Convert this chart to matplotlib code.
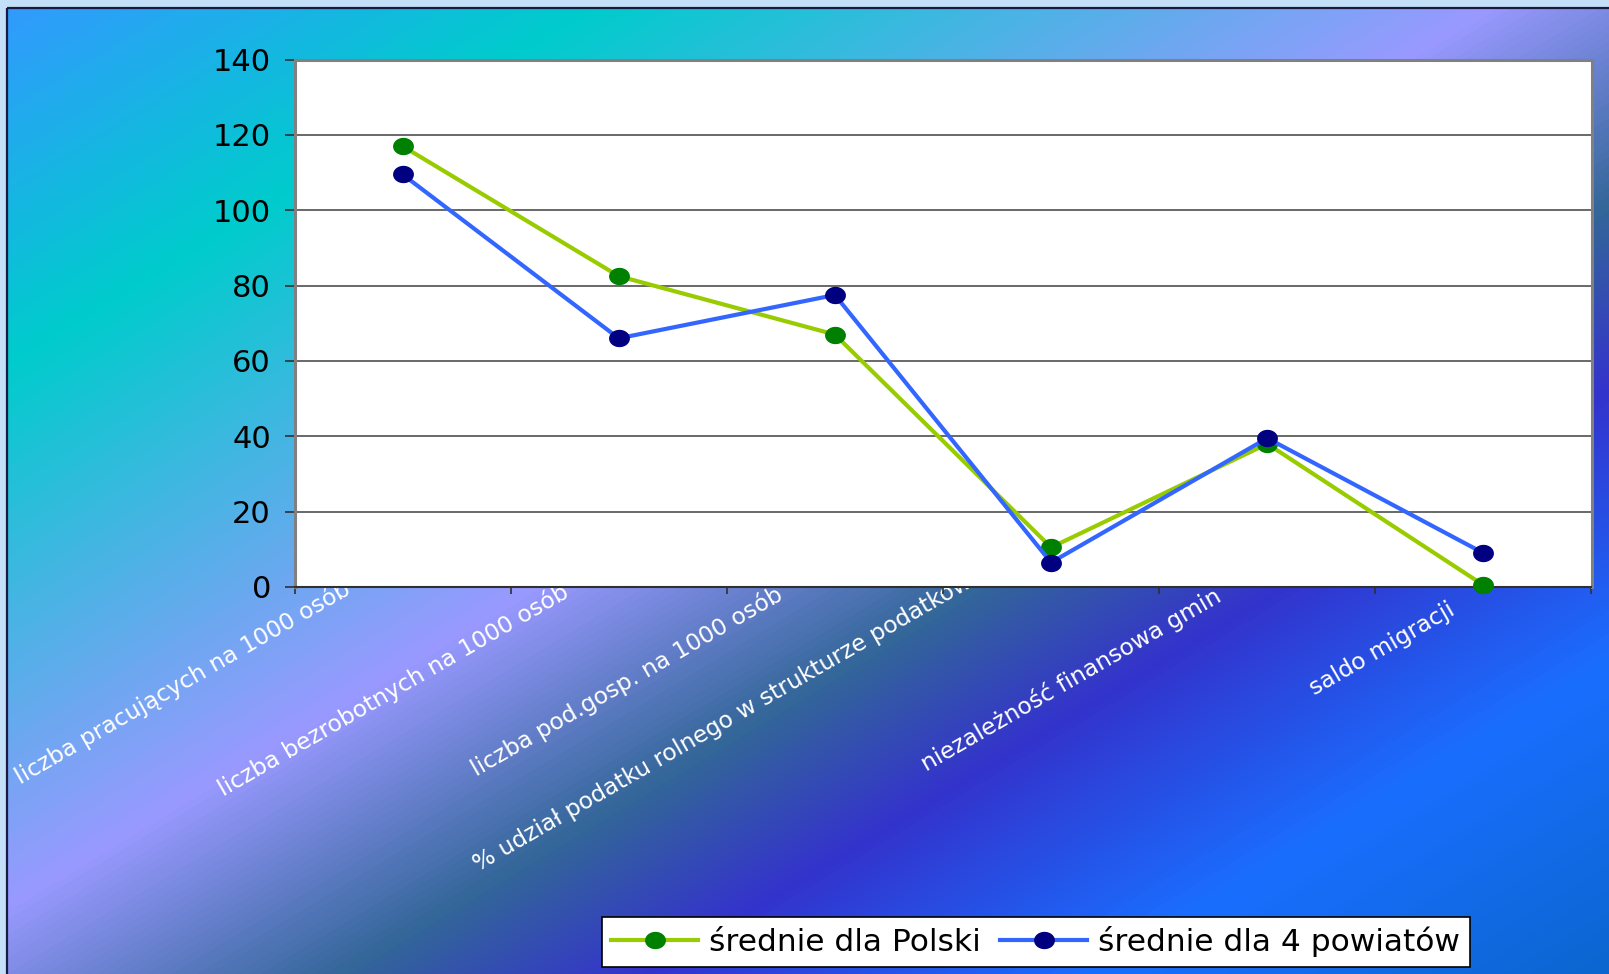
import numpy as np
import matplotlib.pyplot as plt
from matplotlib.colors import LinearSegmentedColormap
from matplotlib.lines import Line2D
from matplotlib.patches import Rectangle
from matplotlib.path import Path
from matplotlib.transforms import blended_transform_factory, ScaledTranslation

# chart data
categories = ["liczba pracujących na 1000 osób",
              "liczba bezrobotnych na 1000 osób",
              "liczba pod.gosp. na 1000 osób",
              "% udział podatku rolnego w strukturze podatków",
              "niezależność finansowa gmin",
              "saldo migracji"]
polska = [117, 82.5, 67, 10.5, 38, 0.5]
powiaty = [109.5, 66, 77.5, 6.5, 39.5, 9]
series_names = ["średnie dla Polski", "średnie dla 4 powiatów"]
yticks = [0, 20, 40, 60, 80, 100, 120, 140]

# where each rotated label starts, in pixels from its category centre / the axis
label_dx = [-382, -395, -358, -573, -341, -169]
label_dy = [-198, -210, -190, -285, -185, -109]

W, H = 1609, 974
fig = plt.figure(figsize=(W / 100, H / 100), dpi=100)
fig.patch.set_facecolor("#c4e0f8")

# background: diagonal multi-stop gradient inside the frame
bg = fig.add_axes([0, 0, 1, 1], zorder=0)
bg.set_xlim(0, W)
bg.set_ylim(H, 0)
bg.axis("off")
stops = [(0, "#3399ff"), (600, "#00cccc"), (1500, "#9999ff"), (1950, "#336699"),
         (2250, "#3333cc"), (2700, "#1a6eff"), (3250, "#0a66cc")]
umax = stops[-1][0]
cmap = LinearSegmentedColormap.from_list("bg", [(u / umax, c) for u, c in stops])
xx, yy = np.meshgrid(np.arange(8, W), np.arange(9, H))
uu = np.clip((xx + 1.65 * yy) / umax, 0, 1)
bg.imshow(uu, cmap=cmap, vmin=0, vmax=1, extent=(8, W, H, 9), aspect="auto",
          interpolation="bilinear")
bg.add_patch(Rectangle((7, 8), W, H, fill=False, edgecolor="#1a1a40", lw=1.6))

# slightly flattened round marker, like the original
th = np.linspace(0, 2 * np.pi, 60)
ellipse = Path(np.column_stack([np.cos(th), 0.82 * np.sin(th)]))

# main plot area
ax_l, ax_b, ax_r, ax_t = 294.5 / W, 1 - 587 / H, 1591.5 / W, 1 - 59.5 / H
ax = fig.add_axes([ax_l, ax_b, ax_r - ax_l, ax_t - ax_b], zorder=1)
ax.set_facecolor("white")
x = np.arange(len(categories))
ax.plot(x, polska, color="#99cc00", lw=3, marker=ellipse, ms=14,
        mfc="#008000", mec="#008000", solid_joinstyle="round", zorder=3, clip_on=False)
ax.plot(x, powiaty, color="#3366ff", lw=3, marker=ellipse, ms=14,
        mfc="#000080", mec="#000080", solid_joinstyle="round", zorder=4, clip_on=False)

ax.set_ylim(0, 140)
ax.set_xlim(-0.5, len(categories) - 0.5)
ax.set_yticks(yticks)
ax.set_yticklabels([str(v) for v in yticks], fontsize=22, family="DejaVu Sans")
ax.set_xticks(np.arange(len(categories) + 1) - 0.5)
ax.set_xticklabels([])
ax.grid(axis="y", color="#404040", lw=1.1)
ax.set_axisbelow(True)
ax.tick_params(axis="y", direction="out", length=7, width=1.2, color="#303030", pad=10)
ax.tick_params(axis="x", direction="out", length=5, width=1.2, color="#303030")
for side in ["left", "top", "right"]:
    ax.spines[side].set_color("#808080")
    ax.spines[side].set_linewidth(2.2)
ax.spines["bottom"].set_color("#303030")
ax.spines["bottom"].set_linewidth(1.5)

# rotated category labels, drawn behind the plot area so the overlap is hidden
base = blended_transform_factory(ax.transData, ax.transAxes)
for i, lab in enumerate(categories):
    off = ScaledTranslation(label_dx[i] / 100, label_dy[i] / 100, fig.dpi_scale_trans)
    bg.text(i, 0, lab, transform=base + off, rotation=30,
            rotation_mode="anchor", ha="left", va="baseline",
            color="white", fontsize=16.8, family="DejaVu Sans", clip_on=False)

handles = [Line2D([], [], color="#99cc00", lw=3, marker=ellipse, ms=14,
                  mfc="#008000", mec="#008000"),
           Line2D([], [], color="#3366ff", lw=3, marker=ellipse, ms=14,
                  mfc="#000080", mec="#000080")]
leg = fig.legend(handles, series_names, loc="center", bbox_to_anchor=(0.6436, 0.033),
                 ncol=2, fontsize=22.5, frameon=True, fancybox=False, edgecolor="black",
                 framealpha=1, handlelength=2.8, handletextpad=0.35, columnspacing=0.6,
                 borderpad=0.3, borderaxespad=0)
leg.get_frame().set_linewidth(1.2)

fig.savefig("out.png", dpi=100, facecolor=fig.get_facecolor())
